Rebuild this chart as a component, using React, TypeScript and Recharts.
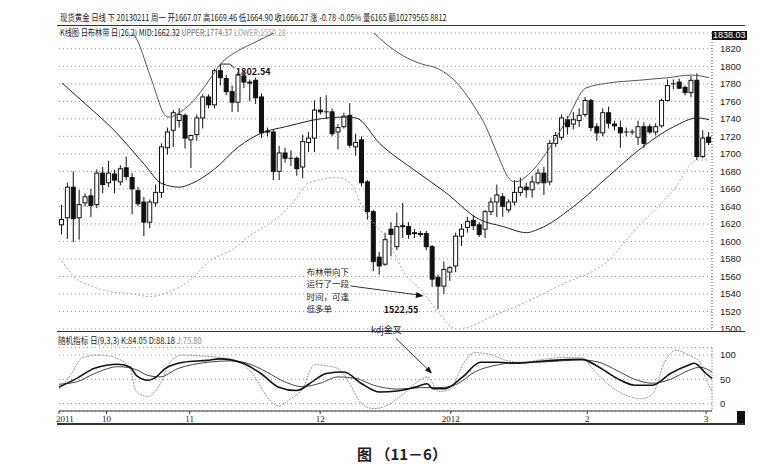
import React from "react";
import { ComposedChart, Bar, Line, XAxis, YAxis, CartesianGrid, ReferenceDot } from "recharts";

// daily candles, Sep 2011 - Mar 2012
const opens = [1619,1627,1662,1627,1644,1652,1642,1678,1667,1677,1668,1684,1673,1658,1645,1622,1644,1656,1707,1727,1738,1744,1716,1722,1741,1765,1756,1795,1786,1771,1759,1789,1782,1784,1765,1725,1725,1680,1701,1695,1695,1685,1713,1718,1750,1748,1748,1725,1731,1744,1708,1716,1668,1634,1582,1574,1614,1594,1617,1617,1610,1609,1609,1594,1559,1549,1565,1572,1606,1616,1624,1619,1614,1634,1645,1651,1636,1645,1656,1662,1659,1667,1678,1668,1712,1719,1739,1734,1738,1745,1761,1731,1724,1747,1734,1730,1725,1725,1719,1731,1731,1725,1732,1761,1780,1782,1776,1770,1784,1697,1719];
const highs = [1642,1667,1680,1659,1655,1660,1682,1685,1692,1682,1687,1697,1678,1662,1651,1648,1665,1712,1730,1750,1752,1746,1722,1745,1768,1768,1797,1802.54,1790,1778,1793,1795,1785,1787,1769,1730,1728,1709,1707,1704,1697,1722,1725,1761,1765,1767,1752,1734,1747,1758,1723,1720,1670,1636,1588,1610,1622,1633,1644,1622,1614,1612,1612,1596,1562,1577,1572,1610,1620,1628,1630,1622,1636,1650,1665,1655,1648,1670,1673,1667,1675,1683,1685,1716,1725,1745,1743,1748,1752,1765,1763,1735,1752,1754,1738,1738,1730,1728,1738,1736,1734,1735,1763,1785,1785,1786,1778,1789,1792,1727,1725];
const lows = [1608,1603,1599,1602,1640,1628,1638,1655,1662,1655,1664,1670,1631,1640,1606,1615,1640,1650,1699,1708,1730,1706,1684,1715,1729,1752,1752,1778,1767,1748,1748,1775,1760,1757,1718,1720,1670,1670,1690,1686,1675,1672,1702,1702,1745,1740,1720,1705,1729,1707,1698,1663,1625,1566,1562,1572,1583,1590,1604,1603,1604,1605,1590,1548,1522.55,1540,1555,1565,1595,1610,1613,1605,1604,1630,1628,1628,1633,1641,1652,1650,1650,1665,1653,1664,1708,1716,1722,1728,1731,1742,1726,1715,1720,1729,1727,1707,1720,1722,1710,1707,1723,1721,1730,1760,1774,1774,1767,1765,1693,1695,1710];
const closes = [1625,1662,1626,1642,1651,1641,1678,1665,1678,1670,1683,1674,1660,1643,1622,1645,1656,1708,1725,1747,1745,1718,1721,1741,1765,1756,1795,1787,1771,1759,1790,1782,1781,1764,1724,1726,1680,1701,1695,1695,1683,1714,1718,1750,1748,1748,1723,1730,1743,1710,1713,1667,1634,1577,1572,1602,1608,1617,1618,1608,1609,1608,1594,1557,1549,1568,1570,1606,1614,1623,1618,1608,1634,1645,1653,1640,1645,1656,1662,1659,1668,1678,1667,1712,1721,1741,1731,1739,1744,1761,1730,1724,1747,1735,1732,1724,1725,1725,1731,1712,1725,1731,1761,1778,1780,1775,1770,1784,1697,1718,1713];

// Bollinger (26,2): [candle index, value]
const midBand = [[0,1781],[4,1757],[9,1726],[14,1688],[17,1666],[20,1662],[22,1666],[26,1683],[30,1708],[34,1724],[38,1731],[41,1736],[43,1739],[48,1742],[50,1741],[54,1712],[60,1681],[65,1657],[71,1625],[75,1617],[79,1610],[81,1614],[87,1640],[93,1675],[98,1704],[104,1731],[108,1741],[110,1739]];
const upperBand = [[10,1880],[12,1840],[13,1827],[15,1789],[18,1742],[21,1752],[22,1758],[25,1784],[27,1803],[30,1818],[33,1828],[36,1838],[40,1852],[45,1858],[50,1852],[53,1838],[55,1826],[58,1812],[61,1803],[64,1797],[67,1782],[70,1755],[72,1732],[74,1700],[76,1672],[77,1668],[80,1681],[83,1708],[86,1741],[89,1775],[93,1781],[98,1784],[103,1787],[107,1790],[110,1787]];
const lowerBand = [[0,1578],[2,1560],[5,1549],[8,1543],[12,1540],[15,1537],[18,1542],[22,1557],[25,1577],[29,1591],[32,1607],[35,1619],[39,1642],[42,1667],[47,1673],[49,1667],[51,1640],[56,1594],[58,1566],[61,1545],[64,1519],[67,1500],[69,1502],[73,1514],[78,1528],[85,1551],[93,1579],[97,1610],[104,1659],[108,1693],[110,1693]];

// stochastic K / D / J
const kLine = [[0,34],[3,52],[6,73],[10,81],[12,75],[13,58],[15,48],[16,52],[18,73],[21,85],[25,89],[27,92],[31,83],[34,62],[37,34],[40,27],[43,48],[45,62],[48,65],[51,41],[54,24],[57,26],[60,34],[62,41],[63,31],[65,31],[68,55],[71,85],[74,85],[77,83],[82,88],[88,91],[91,75],[94,52],[97,38],[100,38],[103,62],[106,79],[107,83],[109,62],[110,52]];
const dLine = [[0,40],[3,45],[6,62],[10,76],[13,70],[15,58],[17,55],[20,72],[25,85],[29,88],[32,82],[35,65],[38,45],[41,35],[44,42],[47,55],[50,52],[53,38],[57,30],[61,33],[64,33],[67,40],[70,65],[74,80],[78,85],[82,86],[88,90],[91,85],[94,68],[97,50],[100,42],[103,50],[106,68],[108,75],[110,65]];
const jLine = [[0,30],[2,60],[4,95],[7,100],[10,92],[12,70],[13,25],[15,15],[17,40],[19,90],[21,100],[24,98],[27,95],[30,88],[33,55],[35,15],[37,-5],[39,10],[41,30],[43,80],[45,78],[47,72],[49,40],[51,0],[53,-10],[55,-5],[58,20],[61,50],[62,55],[64,25],[66,30],[68,80],[70,105],[73,100],[75,90],[78,85],[81,90],[85,95],[88,95],[90,70],[93,35],[96,15],[98,10],[100,20],[102,85],[104,110],[106,100],[108,85],[109,50],[110,25]];

const monthTickIdx = [0, 8, 22, 44, 66, 89, 109];
const monthTickLabels = ["2011", "10", "11", "12", "2012", "2", "3"];
const priceTicks = [1500,1520,1540,1560,1580,1600,1620,1640,1660,1680,1700,1720,1740,1760,1780,1800,1820];
const kdjTicks = [0, 50, 100];

const pick = (arr: number[][], i: number) => {
  const f = arr.find((p) => p[0] === i);
  return f ? f[1] : null;
};

const rows = opens.map((o, i) => ({
  i,
  o,
  h: highs[i],
  l: lows[i],
  c: closes[i],
  range: [lows[i], highs[i]],
  mid: pick(midBand, i),
  upper: pick(upperBand, i),
  lower: pick(lowerBand, i),
  k: pick(kLine, i),
  d: pick(dLine, i),
  j: pick(jLine, i),
}));

function Candle(props: any) {
  const { x, y, width, height, payload } = props;
  const { o, h, l, c } = payload;
  if (height == null || h === l) return null;
  const k = height / (h - l);
  const yOf = (v: number) => y + (h - v) * k;
  const cx = x + width / 2;
  const top = yOf(Math.max(o, c));
  const bot = yOf(Math.min(o, c));
  return (
    <g>
      <line x1={cx} x2={cx} y1={y} y2={y + height} stroke="#111" strokeWidth={1} />
      {o === c ? (
        <line x1={x} x2={x + width} y1={top} y2={top} stroke="#111" strokeWidth={1} />
      ) : (
        <rect x={x + 0.5} y={top} width={width - 1} height={Math.max(bot - top, 1)} fill={c > o ? "#fff" : "#111"} stroke="#111" strokeWidth={1} />
      )}
    </g>
  );
}

function MonthTick(props: any) {
  const { x, y, payload } = props;
  const label = monthTickLabels[monthTickIdx.indexOf(payload.value)];
  const first = payload.value === monthTickIdx[0];
  return (
    <text x={first ? x - 3 : x} y={y + 8} fontSize={9} fill="#222" textAnchor={first ? "start" : "middle"} fontFamily="'Liberation Serif', serif">
      {label}
    </text>
  );
}

const font = "'Noto Sans CJK SC', 'Liberation Sans', sans-serif";
const squeeze = (k: number): React.CSSProperties => ({ transform: `scaleX(${k})`, transformOrigin: "0 0" });

export default function App() {
  return (
    <div style={{ position: "relative", width: 763, height: 476, background: "#fff", margin: -8, fontFamily: font, color: "#222" }}>
      <div style={{ position: "absolute", left: 60, top: 11, fontSize: 9, whiteSpace: "nowrap", ...squeeze(0.82) }}>
        现货黄金 日线 下 20130211 周一 开1667.07 高1669.46 低1664.90 收1666.27 涨 -0.78 -0.05% 量6165 额10279565 8812
      </div>
      <div style={{ position: "absolute", left: 57, top: 25, width: 688, height: 1, background: "#333" }} />
      <div style={{ position: "absolute", left: 60, top: 26, fontSize: 9, whiteSpace: "nowrap", ...squeeze(0.8) }}>
        K线图 日布林带 日(26,2) MID:1662.32 <span style={{ color: "#777" }}>UPPER:1774.37</span> <span style={{ color: "#aaa" }}>LOWER:1550.28</span>
      </div>

      <div style={{ position: "absolute", left: 0, top: 0 }}>
        <ComposedChart width={763} height={340} data={rows} margin={{ top: 33, right: 6, left: 59, bottom: 11 }}>
          <CartesianGrid vertical={false} stroke="#999" strokeDasharray="1 3" />
          <XAxis dataKey="i" hide />
          <YAxis orientation="right" width={45} domain={[1500, 1838.03]} allowDataOverflow ticks={priceTicks} interval={0}
            tickLine={false} axisLine={{ stroke: "#555", strokeDasharray: "1 2" }} tickMargin={2}
            tick={{ fontSize: 9.5, fill: "#222", fontFamily: "'Liberation Sans', sans-serif" }} />
          <Line dataKey="upper" type="monotone" stroke="#555" strokeWidth={1} dot={false} connectNulls isAnimationActive={false} />
          <Line dataKey="lower" type="monotone" stroke="#aaa" strokeWidth={1} strokeDasharray="2 2" dot={false} connectNulls isAnimationActive={false} />
          <Line dataKey="mid" type="monotone" stroke="#222" strokeWidth={1} dot={false} connectNulls isAnimationActive={false} />
          <Bar dataKey="range" barSize={5} shape={<Candle />} isAnimationActive={false} />
          <ReferenceDot x={27} y={1802.54} r={0} shape={(p: any) => (
            <g>
              <polyline points={`${p.cx},${p.cy} ${p.cx + 9},${p.cy} ${p.cx + 14},${p.cy + 4}`} stroke="#222" fill="none" />
              <text x={p.cx + 15} y={p.cy + 11} fontSize={9} fontWeight="bold" fill="#111">1802.54</text>
            </g>
          )} />
          <ReferenceDot x={64} y={1522.55} r={0} shape={(p: any) => (
            <text x={p.cx - 20} y={p.cy + 4} fontSize={9} fontWeight="bold" fill="#111" textAnchor="end">1522.55</text>
          )} />
          <ReferenceDot x={63} y={1540} r={0} shape={(p: any) => (
            <g>
              <line x1={p.cx - 82} y1={p.cy - 8} x2={p.cx - 14} y2={p.cy + 1} stroke="#333" />
              <polygon points={`${p.cx - 9},${p.cy + 2} ${p.cx - 16},${p.cy - 2} ${p.cx - 17},${p.cy + 4}`} fill="#111" />
              <text x={p.cx - 126} y={p.cy - 19} fontSize={8.5} fill="#222" fontFamily={font}>
                <tspan x={p.cx - 126} dy={0}>布林带向下</tspan>
                <tspan x={p.cx - 126} dy={12.3}>运行了一段</tspan>
                <tspan x={p.cx - 126} dy={12.3}>时间，可逢</tspan>
                <tspan x={p.cx - 126} dy={12.3}>低多单</tspan>
              </text>
            </g>
          )} />
        </ComposedChart>
      </div>
      <div style={{ position: "absolute", left: 712, top: 31, padding: "0 1px", height: 9, lineHeight: "9px", fontSize: 9, background: "#111", color: "#fff", fontFamily: "'Liberation Sans', sans-serif" }}>1838.03</div>
      <div style={{ position: "absolute", left: 57, top: 331, width: 688, height: 1, background: "#333" }} />
      <div style={{ position: "absolute", left: 58, top: 334, fontSize: 9, whiteSpace: "nowrap", ...squeeze(0.84) }}>
        随机指标 日(9,3,3) K:84.05 D:88.18 <span style={{ color: "#888" }}>J:75.80</span>
      </div>

      <div style={{ position: "absolute", left: 0, top: 320 }}>
        <ComposedChart width={763} height={110} data={rows} margin={{ top: 27.7, right: 6, left: 59, bottom: 6 }}>
          <CartesianGrid vertical={false} stroke="#999" strokeDasharray="1 3" />
          <XAxis dataKey="i" ticks={monthTickIdx} interval={0} height={13} tickSize={3}
            axisLine={{ stroke: "#333" }} tickLine={{ stroke: "#333" }} tick={<MonthTick />} tickMargin={0} />
          <YAxis orientation="right" width={45} domain={[-15, 115]} allowDataOverflow ticks={kdjTicks} interval={0}
            tickLine={false} axisLine={{ stroke: "#555", strokeDasharray: "1 2" }} tickMargin={2}
            tick={{ fontSize: 9.5, fill: "#222", fontFamily: "'Liberation Sans', sans-serif" }} />
          <Line dataKey="j" type="monotone" stroke="#999" strokeWidth={1} strokeDasharray="2 1" dot={false} connectNulls isAnimationActive={false} />
          <Line dataKey="d" type="monotone" stroke="#444" strokeWidth={1} dot={false} connectNulls isAnimationActive={false} />
          <Line dataKey="k" type="monotone" stroke="#111" strokeWidth={1.6} dot={false} connectNulls isAnimationActive={false} />
          <ReferenceDot x={63} y={60} r={0} ifOverflow="visible" shape={(p: any) => (
            <g>
              <line x1={p.cx - 37} y1={p.cy - 36} x2={p.cx - 4} y2={p.cy - 4} stroke="#333" />
              <polygon points={`${p.cx - 1},${p.cy - 1} ${p.cx - 8},${p.cy - 4} ${p.cx - 4},${p.cy - 8}`} fill="#111" />
              <text x={p.cx - 62} y={p.cy - 41} fontSize={9} fill="#222" fontFamily={font}>kdj金叉</text>
            </g>
          )} />
        </ComposedChart>
      </div>
      <div style={{ position: "absolute", left: 57, top: 423, width: 688, height: 2, background: "#333" }} />
      <div style={{ position: "absolute", left: 737, top: 411, width: 8, height: 12, background: "#111" }} />

      <div style={{ position: "absolute", left: 357, top: 443, fontSize: 15, fontWeight: "bold", whiteSpace: "nowrap" }}>
        图 （11－6）
      </div>
    </div>
  );
}
